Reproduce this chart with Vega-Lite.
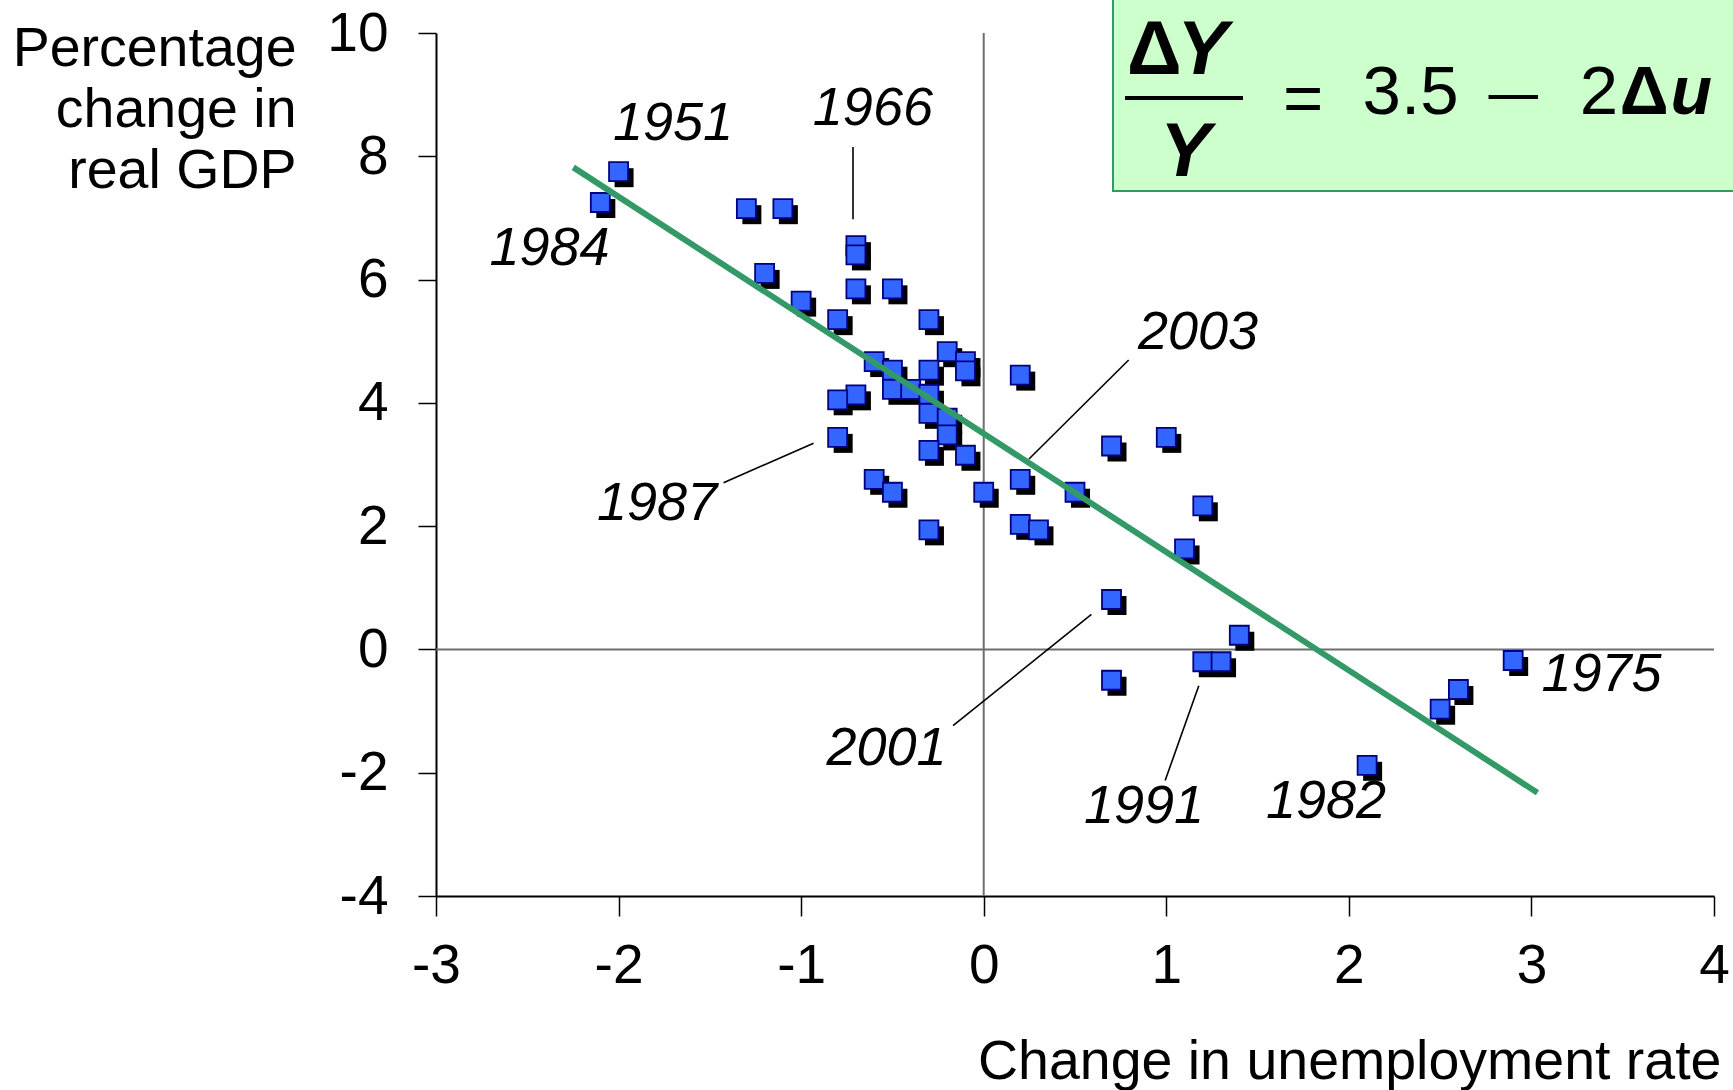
{
  "$schema": "https://vega.github.io/schema/vega-lite/v6.json",
  "width": 1278,
  "height": 863,
  "autosize": {"type": "none"},
  "padding": {"left": 436, "top": 33, "right": 19, "bottom": 194},
  "background": "white",
  "config": {"view": {"stroke": null}, "font": "Liberation Sans", "axis": {"grid": false}},
  "datasets": {
    "box": [{"x": 0.708, "x2": 4.4, "y": 7.437, "y2": 11.2}],
    "zero": [
      {"x": 0, "x2": 0, "y": -4, "y2": 10},
      {"x": -3, "x2": 4, "y": 0, "y2": 0}
    ],
    "fit": [{"x": -2.248, "y": 7.82, "x2": 3.033, "y2": -2.325}],
    "leaders": [
      {"year": "1966", "x": -0.716, "y": 8.15, "x2": -0.716, "y2": 6.98},
      {"year": "1987", "x": -0.932, "y": 3.344, "x2": -1.425, "y2": 2.705},
      {"year": "2003", "x": 0.794, "y": 4.695, "x2": 0.248, "y2": 3.089},
      {"year": "2001", "x": 0.59, "y": 0.569, "x2": -0.168, "y2": -1.238},
      {"year": "1991", "x": 1.178, "y": -0.589, "x2": 0.994, "y2": -2.125}
    ],
    "pts": [
      {"x": -2.0, "y": 7.75}, {"x": -2.1, "y": 7.25}, {"x": -1.3, "y": 7.15}, {"x": -1.1, "y": 7.15},
      {"x": -0.7, "y": 6.55}, {"x": -0.7, "y": 6.4}, {"x": -1.2, "y": 6.1}, {"x": -1.0, "y": 5.65},
      {"x": -0.7, "y": 5.85}, {"x": -0.5, "y": 5.85}, {"x": -0.8, "y": 5.35}, {"x": -0.3, "y": 5.35},
      {"x": -0.2, "y": 4.83}, {"x": -0.1, "y": 4.67}, {"x": -0.1, "y": 4.52}, {"x": -0.6, "y": 4.67},
      {"x": -0.5, "y": 4.53}, {"x": -0.3, "y": 4.53}, {"x": -0.5, "y": 4.22}, {"x": -0.4, "y": 4.22},
      {"x": -0.3, "y": 4.14}, {"x": -0.7, "y": 4.13}, {"x": -0.8, "y": 4.05}, {"x": -0.3, "y": 3.83},
      {"x": -0.2, "y": 3.75}, {"x": -0.2, "y": 3.48}, {"x": -0.8, "y": 3.44}, {"x": -0.3, "y": 3.23},
      {"x": -0.1, "y": 3.15}, {"x": 0.2, "y": 4.45}, {"x": -0.6, "y": 2.76}, {"x": -0.5, "y": 2.55},
      {"x": 0.0, "y": 2.55}, {"x": 0.2, "y": 2.76}, {"x": 0.5, "y": 2.55}, {"x": 0.7, "y": 3.3},
      {"x": 1.0, "y": 3.44}, {"x": -0.3, "y": 1.94}, {"x": 0.2, "y": 2.03}, {"x": 0.3, "y": 1.94},
      {"x": 1.2, "y": 2.33}, {"x": 1.1, "y": 1.63}, {"x": 0.7, "y": 0.81}, {"x": 0.7, "y": -0.5},
      {"x": 1.4, "y": 0.23}, {"x": 1.2, "y": -0.2}, {"x": 1.3, "y": -0.2}, {"x": 2.1, "y": -1.88},
      {"x": 2.5, "y": -0.97}, {"x": 2.6, "y": -0.65}, {"x": 2.9, "y": -0.18}
    ],
    "years": [
      {"x": -1.702, "y": 8.264, "t": "1951"},
      {"x": -0.607, "y": 8.507, "t": "1966"},
      {"x": -2.378, "y": 6.236, "t": "1984"},
      {"x": 1.174, "y": 4.873, "t": "2003"},
      {"x": -1.789, "y": 2.099, "t": "1987"},
      {"x": -0.532, "y": -1.875, "t": "2001"},
      {"x": 0.878, "y": -2.817, "t": "1991"},
      {"x": 1.875, "y": -2.735, "t": "1982"},
      {"x": 3.384, "y": -0.675, "t": "1975"}
    ],
    "eqDeltaTop": [{"x": 0.785, "y": 9.335, "t": "Δ"}],
    "eqYTop": [{"x": 1.06, "y": 9.335, "t": "Y"}],
    "eqYBottom": [{"x": 1.105, "y": 7.68, "t": "Y"}],
    "eqRules": [
      {"part": "fraction bar", "x": 0.774, "x2": 1.42, "y": 8.945, "y2": 8.945},
      {"part": "minus", "x": 2.765, "x2": 3.036, "y": 8.962, "y2": 8.962}
    ],
    "eqReg": [
      {"x": 1.749, "y": 8.56, "t": "="},
      {"x": 2.338, "y": 8.686, "t": "3.5"},
      {"x": 3.37, "y": 8.686, "t": "2"}
    ],
    "eqDelta": [{"x": 3.484, "y": 8.686, "t": "Δ"}],
    "eqU": [{"x": 3.762, "y": 8.686, "t": "u"}]
  },
  "encoding": {
    "x": {
      "field": "x", "type": "quantitative",
      "scale": {"domain": [-3, 4], "nice": false, "zero": false},
      "axis": {
        "values": [-3, -2, -1, 0, 1, 2, 3, 4],
        "domainColor": "black", "domainWidth": 2,
        "tickColor": "black", "tickWidth": 1.5, "tickSize": 20,
        "labelFont": "Liberation Sans", "labelFontSize": 55, "labelColor": "black",
        "labelPadding": 23, "labelFlush": false, "labelOverlap": false,
        "labelExpr": "toString(datum.value)",
        "title": "Change in unemployment rate",
        "titleFont": "Liberation Sans", "titleFontSize": 55.5, "titleFontWeight": "normal", "titleColor": "black",
        "titleAlign": "right", "titleBaseline": "alphabetic", "titleX": 1285, "titleY": 182, "titleAngle": 0
      }
    },
    "y": {
      "field": "y", "type": "quantitative",
      "scale": {"domain": [-4, 10], "nice": false, "zero": false},
      "axis": {
        "values": [-4, -2, 0, 2, 4, 6, 8, 10],
        "domainColor": "black", "domainWidth": 2,
        "tickColor": "black", "tickWidth": 1.5, "tickSize": 18,
        "labelFont": "Liberation Sans", "labelFontSize": 55, "labelColor": "black",
        "labelPadding": 30, "labelFlush": false, "labelOverlap": false,
        "labelExpr": "toString(datum.value)",
        "title": ["Percentage", "change in", "real GDP"],
        "titleFont": "Liberation Sans", "titleFontSize": 55.5, "titleFontWeight": "normal", "titleColor": "black",
        "titleAngle": 0, "titleAlign": "right", "titleBaseline": "alphabetic",
        "titleX": -140, "titleY": 32, "titleLineHeight": 61
      }
    }
  },
  "layer": [
    {
      "data": {"name": "box"},
      "mark": {"type": "rect", "fill": "#ccffcc", "stroke": "#339966", "strokeWidth": 2},
      "encoding": {"x2": {"field": "x2"}, "y2": {"field": "y2"}}
    },
    {
      "data": {"name": "zero"},
      "mark": {"type": "rule", "color": "#6e6e6e", "strokeWidth": 2},
      "encoding": {"x2": {"field": "x2"}, "y2": {"field": "y2"}}
    },
    {
      "data": {"name": "pts"},
      "mark": {"type": "point", "shape": "square", "filled": true, "size": 361, "color": "black", "opacity": 1, "xOffset": 5.5, "yOffset": 6}
    },
    {
      "data": {"name": "pts"},
      "mark": {"type": "point", "shape": "square", "filled": true, "size": 361, "color": "#3366ff", "stroke": "#000080", "strokeWidth": 1.8, "opacity": 1}
    },
    {
      "data": {"name": "fit"},
      "mark": {"type": "rule", "color": "#339966", "strokeWidth": 6},
      "encoding": {"x2": {"field": "x2"}, "y2": {"field": "y2"}}
    },
    {
      "data": {"name": "leaders"},
      "mark": {"type": "rule", "color": "black", "strokeWidth": 1.6},
      "encoding": {"x2": {"field": "x2"}, "y2": {"field": "y2"}}
    },
    {
      "data": {"name": "years"},
      "mark": {"type": "text", "font": "Liberation Sans", "fontSize": 54, "fontStyle": "italic", "color": "black", "align": "center", "baseline": "alphabetic"},
      "encoding": {"text": {"field": "t"}}
    },
    {
      "data": {"name": "eqRules"},
      "mark": {"type": "rule", "color": "black", "strokeWidth": 4},
      "encoding": {"x2": {"field": "x2"}, "y2": {"field": "y2"}}
    },
    {
      "data": {"name": "eqDeltaTop"},
      "mark": {"type": "text", "font": "Liberation Sans", "fontSize": 76, "fontWeight": "bold", "color": "black", "align": "left", "baseline": "alphabetic"},
      "encoding": {"text": {"field": "t"}}
    },
    {
      "data": {"name": "eqYTop"},
      "mark": {"type": "text", "font": "Liberation Sans", "fontSize": 76, "fontWeight": "bold", "fontStyle": "italic", "color": "black", "align": "left", "baseline": "alphabetic"},
      "encoding": {"text": {"field": "t"}}
    },
    {
      "data": {"name": "eqYBottom"},
      "mark": {"type": "text", "font": "Liberation Sans", "fontSize": 76, "fontWeight": "bold", "fontStyle": "italic", "color": "black", "align": "center", "baseline": "alphabetic"},
      "encoding": {"text": {"field": "t"}}
    },
    {
      "data": {"name": "eqReg"},
      "mark": {"type": "text", "font": "Liberation Sans", "fontSize": 69, "color": "black", "align": "center", "baseline": "alphabetic"},
      "encoding": {"text": {"field": "t"}}
    },
    {
      "data": {"name": "eqDelta"},
      "mark": {"type": "text", "font": "Liberation Sans", "fontSize": 68, "fontWeight": "bold", "color": "black", "align": "left", "baseline": "alphabetic"},
      "encoding": {"text": {"field": "t"}}
    },
    {
      "data": {"name": "eqU"},
      "mark": {"type": "text", "font": "Liberation Sans", "fontSize": 68, "fontWeight": "bold", "fontStyle": "italic", "color": "black", "align": "left", "baseline": "alphabetic"},
      "encoding": {"text": {"field": "t"}}
    }
  ]
}
